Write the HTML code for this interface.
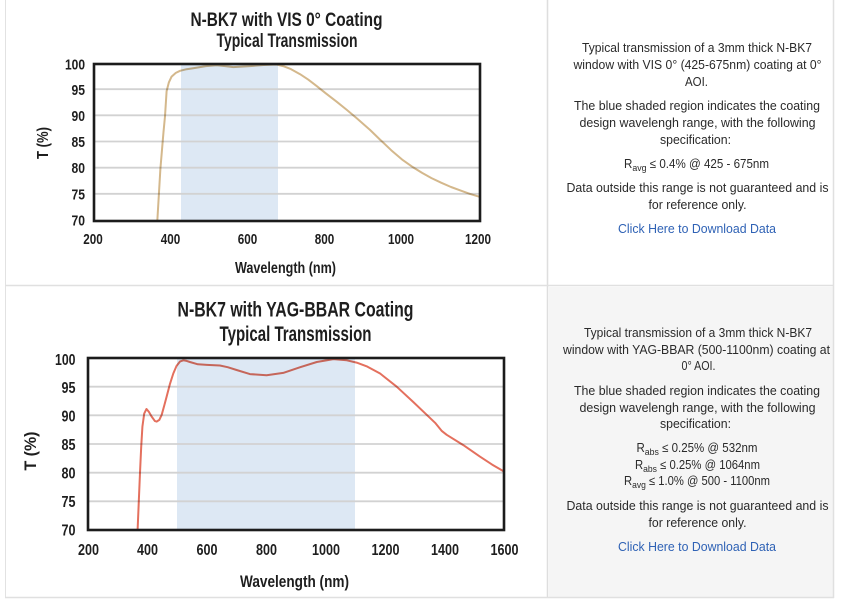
<!DOCTYPE html>
<html>
<head>
<meta charset="utf-8">
<style>
html,body{margin:0;padding:0;background:#fff;}
body{width:842px;height:602px;overflow:hidden;}
svg{display:block;}
.ct{font-family:"Liberation Sans Narrow","Liberation Sans",sans-serif;font-weight:bold;fill:#1e1e1e;}
.rt{font-family:"Liberation Sans",sans-serif;font-size:12.5px;fill:#2a2a2a;}
.lk{font-family:"Liberation Sans",sans-serif;font-size:12.5px;fill:#2f62b5;}
</style>
</head>
<body>
<svg width="842" height="602" viewBox="0 0 842 602" xmlns="http://www.w3.org/2000/svg">
  <!-- table background / borders -->
  <rect x="549" y="287" width="284" height="310" fill="#f5f5f5"/>
  <line x1="5.5" y1="0" x2="5.5" y2="598" stroke="#e2e2e2" stroke-width="1"/>
  <line x1="547.5" y1="0" x2="547.5" y2="598" stroke="#dedede" stroke-width="1.5"/>
  <line x1="833.5" y1="0" x2="833.5" y2="598" stroke="#e0e0e0" stroke-width="1.5"/>
  <line x1="5" y1="285.5" x2="834" y2="285.5" stroke="#e0e0e0" stroke-width="1.5"/>
  <line x1="5" y1="597.5" x2="834" y2="597.5" stroke="#e0e0e0" stroke-width="1.5"/>

  <!-- ================= TOP CHART ================= -->
  <text class="ct" x="286.5" y="26" text-anchor="middle" font-size="19" textLength="192" lengthAdjust="spacingAndGlyphs">N-BK7 with VIS 0° Coating</text>
  <text class="ct" x="287" y="47" text-anchor="middle" font-size="19" textLength="141" lengthAdjust="spacingAndGlyphs">Typical Transmission</text>

  <rect x="181" y="64" width="97" height="157" fill="#dde8f4"/>
  <g stroke="#d2d2d2" stroke-width="1.8">
    <line x1="94" y1="89.2" x2="480" y2="89.2"/>
    <line x1="94" y1="115.3" x2="480" y2="115.3"/>
    <line x1="94" y1="141.5" x2="480" y2="141.5"/>
    <line x1="94" y1="167.7" x2="480" y2="167.7"/>
    <line x1="94" y1="193.8" x2="480" y2="193.8"/>
  </g>
  <polyline fill="none" stroke="#d4b88c" stroke-width="2" stroke-linejoin="round" stroke-linecap="round" style="mix-blend-mode:multiply"
    points="157.3,221 160.4,168.7 163.5,132 165,116.3 166.6,91.2 168.9,82.3 171.6,76.6 175.8,72.9 180.1,70.8 186.6,69.2 193.2,68.2 205.9,66.1 216.7,65.3 225.2,66.1 233.3,67.1 249.9,66.1 263.8,65 276.6,64.5 283.1,66.1 290.9,69.1 300.1,74.2 308.2,79.6 316.7,86.1 325.6,93.2 336.8,101.8 346.8,109.9 356.9,118.4 370,129.9 380,139.6 391.2,150.2 402.8,160.1 412,166.6 422.1,172.9 431.5,178.1 441.4,182.8 451,187 460.7,190.6 470,193.9 480,196.9"/>
  <rect x="94" y="64" width="386" height="157" fill="none" stroke="#1c1c1c" stroke-width="2.6"/>

  <g class="ct" font-size="14.5" text-anchor="end">
    <text x="85" y="69.5" textLength="20" lengthAdjust="spacingAndGlyphs">100</text>
    <text x="85" y="95" textLength="13.5" lengthAdjust="spacingAndGlyphs">95</text>
    <text x="85" y="121" textLength="13.5" lengthAdjust="spacingAndGlyphs">90</text>
    <text x="85" y="147" textLength="13.5" lengthAdjust="spacingAndGlyphs">85</text>
    <text x="85" y="173" textLength="13.5" lengthAdjust="spacingAndGlyphs">80</text>
    <text x="85" y="199.5" textLength="13.5" lengthAdjust="spacingAndGlyphs">75</text>
    <text x="85" y="225.7" textLength="13.5" lengthAdjust="spacingAndGlyphs">70</text>
  </g>
  <g class="ct" font-size="15" text-anchor="middle">
    <text x="93" y="244" textLength="19.5" lengthAdjust="spacingAndGlyphs">200</text>
    <text x="170.5" y="244" textLength="19.5" lengthAdjust="spacingAndGlyphs">400</text>
    <text x="247.5" y="244" textLength="19.5" lengthAdjust="spacingAndGlyphs">600</text>
    <text x="324.5" y="244" textLength="19.5" lengthAdjust="spacingAndGlyphs">800</text>
    <text x="401" y="244" textLength="26" lengthAdjust="spacingAndGlyphs">1000</text>
    <text x="478" y="244" textLength="26" lengthAdjust="spacingAndGlyphs">1200</text>
  </g>
  <text class="ct" x="285.5" y="273" text-anchor="middle" font-size="15.5" textLength="101" lengthAdjust="spacingAndGlyphs">Wavelength (nm)</text>
  <text class="ct" transform="translate(48,143) rotate(-90)" x="0" y="0" text-anchor="middle" font-size="16" textLength="32" lengthAdjust="spacingAndGlyphs">T (%)</text>

  <!-- ================= BOTTOM CHART ================= -->
  <text class="ct" x="295.5" y="316.5" text-anchor="middle" font-size="21" textLength="236" lengthAdjust="spacingAndGlyphs">N-BK7 with YAG-BBAR Coating</text>
  <text class="ct" x="295.5" y="341" text-anchor="middle" font-size="21" textLength="152" lengthAdjust="spacingAndGlyphs">Typical Transmission</text>

  <rect x="177" y="358" width="178" height="172" fill="#dde8f4"/>
  <g stroke="#d2d2d2" stroke-width="1.8">
    <line x1="88" y1="386.7" x2="504" y2="386.7"/>
    <line x1="88" y1="415.3" x2="504" y2="415.3"/>
    <line x1="88" y1="444" x2="504" y2="444"/>
    <line x1="88" y1="472.7" x2="504" y2="472.7"/>
    <line x1="88" y1="501.3" x2="504" y2="501.3"/>
  </g>
  <polyline fill="none" stroke="#e4705e" stroke-width="2" stroke-linejoin="round" stroke-linecap="round" style="mix-blend-mode:multiply"
    points="137.6,530 138.8,501.3 140,472.7 141.2,446.9 142.4,426.8 144.2,413.6 146.5,409 148.9,411.9 151.6,416.5 154.9,421.1 156.6,421.6 159.3,419.9 161.7,414.8 164.4,405 166.7,396.4 170,383.8 173.3,373.5 176.5,366 180.1,361.4 183.4,360.3 186.7,360.9 189.9,362 197.9,364.3 206.9,364.9 219.9,365.5 227.7,367.2 236.6,370 249.9,374.1 266.6,375.2 283.2,372.9 300.2,367.2 316.8,362 333.4,359.1 346.8,360.3 356.6,362.6 367.3,366.6 380.1,373.5 396.7,386.7 413.4,402.1 426.7,414.8 435.1,422.8 441.6,430.8 446.7,434.8 463.3,445.1 479.9,456.6 492.1,464.6 504,471.5"/>
  <rect x="88" y="358" width="416" height="172" fill="none" stroke="#1c1c1c" stroke-width="2.6"/>

  <g class="ct" font-size="16" text-anchor="end">
    <text x="75.5" y="365" textLength="20.5" lengthAdjust="spacingAndGlyphs">100</text>
    <text x="75.5" y="393" textLength="14" lengthAdjust="spacingAndGlyphs">95</text>
    <text x="75.5" y="421.5" textLength="14" lengthAdjust="spacingAndGlyphs">90</text>
    <text x="75.5" y="450" textLength="14" lengthAdjust="spacingAndGlyphs">85</text>
    <text x="75.5" y="478.5" textLength="14" lengthAdjust="spacingAndGlyphs">80</text>
    <text x="75.5" y="507" textLength="14" lengthAdjust="spacingAndGlyphs">75</text>
    <text x="75.5" y="535.5" textLength="14" lengthAdjust="spacingAndGlyphs">70</text>
  </g>
  <g class="ct" font-size="16" text-anchor="middle">
    <text x="88.5" y="555" textLength="21" lengthAdjust="spacingAndGlyphs">200</text>
    <text x="147.5" y="555" textLength="21" lengthAdjust="spacingAndGlyphs">400</text>
    <text x="207" y="555" textLength="21" lengthAdjust="spacingAndGlyphs">600</text>
    <text x="266.5" y="555" textLength="21" lengthAdjust="spacingAndGlyphs">800</text>
    <text x="326" y="555" textLength="28" lengthAdjust="spacingAndGlyphs">1000</text>
    <text x="385.5" y="555" textLength="28" lengthAdjust="spacingAndGlyphs">1200</text>
    <text x="445" y="555" textLength="28" lengthAdjust="spacingAndGlyphs">1400</text>
    <text x="504.5" y="555" textLength="28" lengthAdjust="spacingAndGlyphs">1600</text>
  </g>
  <text class="ct" x="294.5" y="587" text-anchor="middle" font-size="17" textLength="109" lengthAdjust="spacingAndGlyphs">Wavelength (nm)</text>
  <text class="ct" transform="translate(36,451) rotate(-90)" x="0" y="0" text-anchor="middle" font-size="17" textLength="39" lengthAdjust="spacingAndGlyphs">T (%)</text>

  <!-- ================= TOP RIGHT TEXT ================= -->
  <g text-anchor="middle">
    <text class="rt" x="697" y="52" textLength="230" lengthAdjust="spacingAndGlyphs">Typical transmission of a 3mm thick N-BK7</text>
    <text class="rt" x="697.5" y="69" textLength="248" lengthAdjust="spacingAndGlyphs">window with VIS 0° (425-675nm) coating at 0°</text>
    <text class="rt" x="696.5" y="86" textLength="23" lengthAdjust="spacingAndGlyphs">AOI.</text>
    <text class="rt" x="697" y="110" textLength="246" lengthAdjust="spacingAndGlyphs">The blue shaded region indicates the coating</text>
    <text class="rt" x="697.5" y="127" textLength="236" lengthAdjust="spacingAndGlyphs">design wavelengh range, with the following</text>
    <text class="rt" x="695.5" y="144" textLength="71" lengthAdjust="spacingAndGlyphs">specification:</text>
    <text class="rt" x="696.5" y="168" textLength="145" lengthAdjust="spacingAndGlyphs">R<tspan font-size="9.5" dy="3">avg</tspan><tspan dy="-3"> ≤ 0.4% @ 425 - 675nm</tspan></text>
    <text class="rt" x="697.5" y="192" textLength="262" lengthAdjust="spacingAndGlyphs">Data outside this range is not guaranteed and is</text>
    <text class="rt" x="697.5" y="209" textLength="98" lengthAdjust="spacingAndGlyphs">for reference only.</text>
    <text class="lk" x="697" y="233" textLength="158" lengthAdjust="spacingAndGlyphs">Click Here to Download Data</text>
  </g>

  <!-- ================= BOTTOM RIGHT TEXT ================= -->
  <g text-anchor="middle">
    <text class="rt" x="698" y="337" textLength="228" lengthAdjust="spacingAndGlyphs">Typical transmission of a 3mm thick N-BK7</text>
    <text class="rt" x="696.5" y="354" textLength="267" lengthAdjust="spacingAndGlyphs">window with YAG-BBAR (500-1100nm) coating at</text>
    <text class="rt" x="698.5" y="370" textLength="34" lengthAdjust="spacingAndGlyphs">0° AOI.</text>
    <text class="rt" x="697" y="395" textLength="246" lengthAdjust="spacingAndGlyphs">The blue shaded region indicates the coating</text>
    <text class="rt" x="697.5" y="412" textLength="236" lengthAdjust="spacingAndGlyphs">design wavelengh range, with the following</text>
    <text class="rt" x="695.5" y="428" textLength="71" lengthAdjust="spacingAndGlyphs">specification:</text>
    <text class="rt" x="697" y="452" textLength="121" lengthAdjust="spacingAndGlyphs">R<tspan font-size="9.5" dy="3">abs</tspan><tspan dy="-3"> ≤ 0.25% @ 532nm</tspan></text>
    <text class="rt" x="697.5" y="469" textLength="125" lengthAdjust="spacingAndGlyphs">R<tspan font-size="9.5" dy="3">abs</tspan><tspan dy="-3"> ≤ 0.25% @ 1064nm</tspan></text>
    <text class="rt" x="697" y="485" textLength="146" lengthAdjust="spacingAndGlyphs">R<tspan font-size="9.5" dy="3">avg</tspan><tspan dy="-3"> ≤ 1.0% @ 500 - 1100nm</tspan></text>
    <text class="rt" x="697.5" y="510" textLength="262" lengthAdjust="spacingAndGlyphs">Data outside this range is not guaranteed and is</text>
    <text class="rt" x="697.5" y="527" textLength="98" lengthAdjust="spacingAndGlyphs">for reference only.</text>
    <text class="lk" x="697" y="551" textLength="158" lengthAdjust="spacingAndGlyphs">Click Here to Download Data</text>
  </g>
</svg>
</body>
</html>
